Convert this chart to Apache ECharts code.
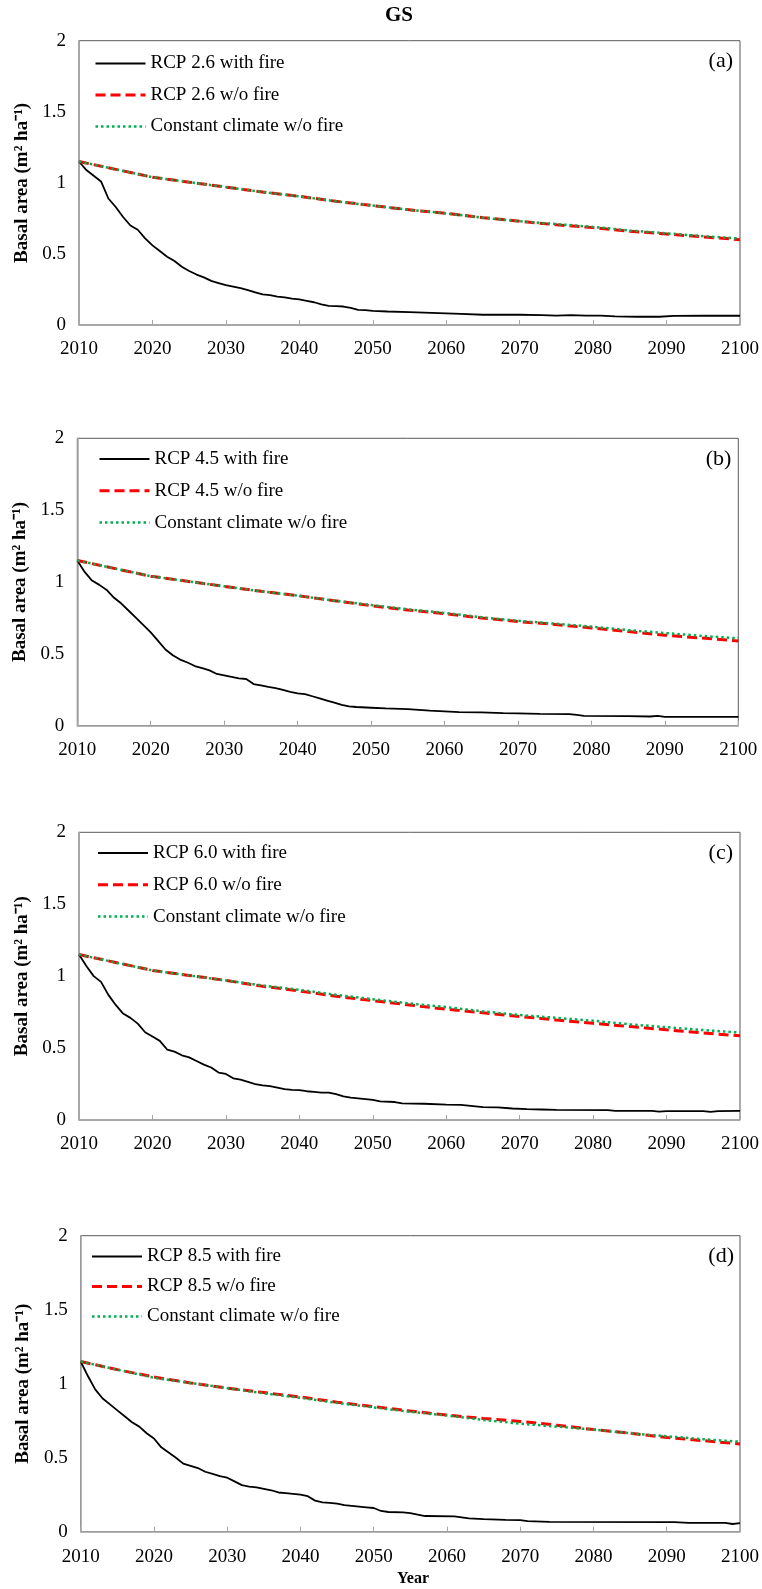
<!DOCTYPE html>
<html>
<head>
<meta charset="utf-8">
<script src="https://cdn.jsdelivr.net/npm/echarts@6/dist/echarts.min.js"></script>
<style>
html,body{margin:0;padding:0;background:#fff;}
#chart{width:762px;height:1589px;}
</style>
</head>
<body>
<div id="chart"></div>
<script>
// ---------- DATA ----------
const chartTitle = 'GS';
const xTicks = [2010, 2020, 2030, 2040, 2050, 2060, 2070, 2080, 2090, 2100];
const yTicks = [0, 0.5, 1, 1.5, 2];
const panelLabels = ['(a)', '(b)', '(c)', '(d)'];
const scenarios = ['RCP 2.6', 'RCP 4.5', 'RCP 6.0', 'RCP 8.5'];
const constantName = 'Constant climate w/o fire';
const yTitle = 'Basal area (m\u00B2 ha\u207B\u00B9)';
const xTitle = 'Year';

// five-year steps for the no-fire runs
const years5 = [2010,2015,2020,2025,2030,2035,2040,2045,2050,2055,2060,2065,2070,2075,2080,2085,2090,2095,2100];
const constantNoFire = [1.15,1.095,1.04,1.005,0.97,0.935,0.905,0.87,0.84,0.81,0.785,0.755,0.73,0.71,0.69,0.665,0.645,0.625,0.608];
const rcp26NoFire   = [1.15,1.095,1.04,1.005,0.97,0.935,0.905,0.87,0.84,0.81,0.785,0.755,0.73,0.705,0.685,0.66,0.64,0.62,0.60];
const rcp45NoFire   = [1.15,1.095,1.04,1.005,0.97,0.935,0.905,0.87,0.835,0.805,0.78,0.75,0.725,0.705,0.68,0.655,0.63,0.61,0.59];
const rcp60NoFire   = [1.15,1.095,1.04,1.005,0.97,0.93,0.897,0.86,0.83,0.80,0.77,0.745,0.72,0.695,0.672,0.65,0.627,0.605,0.585];
const rcp85NoFire   = [1.15,1.095,1.045,1.005,0.97,0.94,0.91,0.875,0.845,0.815,0.788,0.765,0.745,0.72,0.69,0.665,0.637,0.615,0.593];

// with-fire runs: [year, basal area]
const rcp26Fire = [[2010,1.15],[2011,1.09],[2012,1.05],[2013,1.01],[2014,0.89],[2015,0.83],[2016,0.76],[2017,0.70],[2018,0.67],[2019,0.61],[2020,0.56],[2021,0.52],[2022,0.48],[2023,0.45],[2024,0.41],[2025,0.38],[2026,0.355],[2027,0.335],[2028,0.31],[2029,0.295],[2030,0.28],[2031,0.27],[2032,0.26],[2033,0.245],[2034,0.23],[2035,0.215],[2036,0.21],[2037,0.20],[2038,0.195],[2039,0.185],[2040,0.18],[2041,0.17],[2042,0.16],[2043,0.145],[2044,0.135],[2045,0.133],[2046,0.13],[2047,0.12],[2048,0.107],[2049,0.105],[2050,0.10],[2052,0.095],[2055,0.09],[2058,0.085],[2060,0.082],[2062,0.078],[2065,0.072],[2070,0.072],[2073,0.07],[2075,0.066],[2077,0.07],[2079,0.066],[2081,0.066],[2083,0.06],[2086,0.058],[2089,0.058],[2091,0.064],[2095,0.065],[2100,0.065]];
const rcp45Fire = [[2010,1.15],[2011,1.07],[2012,1.01],[2013,0.98],[2014,0.945],[2015,0.89],[2016,0.85],[2017,0.80],[2018,0.75],[2019,0.70],[2020,0.65],[2021,0.59],[2022,0.53],[2023,0.49],[2024,0.46],[2025,0.44],[2026,0.415],[2027,0.40],[2028,0.385],[2029,0.36],[2030,0.35],[2031,0.34],[2032,0.33],[2033,0.325],[2034,0.29],[2035,0.28],[2036,0.27],[2037,0.262],[2038,0.25],[2039,0.235],[2040,0.225],[2041,0.22],[2042,0.205],[2043,0.19],[2044,0.175],[2045,0.16],[2046,0.145],[2047,0.135],[2048,0.13],[2050,0.125],[2052,0.12],[2055,0.115],[2058,0.105],[2060,0.10],[2062,0.095],[2065,0.093],[2068,0.088],[2070,0.086],[2073,0.082],[2077,0.081],[2078,0.075],[2079,0.068],[2085,0.067],[2088,0.064],[2089,0.068],[2090,0.062],[2100,0.062]];
const rcp60Fire = [[2010,1.15],[2011,1.07],[2012,1.00],[2013,0.96],[2014,0.87],[2015,0.80],[2016,0.74],[2017,0.71],[2018,0.67],[2019,0.61],[2020,0.58],[2021,0.55],[2022,0.49],[2023,0.475],[2024,0.45],[2025,0.435],[2026,0.41],[2027,0.385],[2028,0.365],[2029,0.33],[2030,0.32],[2031,0.29],[2032,0.28],[2033,0.265],[2034,0.25],[2035,0.24],[2036,0.235],[2037,0.225],[2038,0.215],[2039,0.21],[2040,0.208],[2041,0.20],[2042,0.195],[2043,0.19],[2044,0.19],[2045,0.18],[2046,0.165],[2047,0.155],[2048,0.15],[2049,0.145],[2050,0.14],[2051,0.13],[2053,0.125],[2054,0.115],[2057,0.113],[2060,0.107],[2062,0.105],[2063,0.10],[2065,0.09],[2067,0.088],[2069,0.08],[2071,0.075],[2073,0.073],[2075,0.07],[2082,0.068],[2083,0.064],[2088,0.063],[2089,0.058],[2090,0.062],[2095,0.062],[2096,0.056],[2097,0.062],[2100,0.063]];
const rcp85Fire = [[2010,1.15],[2011,1.05],[2012,0.96],[2013,0.90],[2014,0.86],[2015,0.82],[2016,0.78],[2017,0.74],[2018,0.71],[2019,0.665],[2020,0.63],[2021,0.57],[2022,0.535],[2023,0.50],[2024,0.46],[2025,0.445],[2026,0.43],[2027,0.405],[2028,0.39],[2029,0.375],[2030,0.365],[2031,0.34],[2032,0.315],[2033,0.305],[2034,0.30],[2035,0.29],[2036,0.28],[2037,0.265],[2038,0.26],[2039,0.255],[2040,0.25],[2041,0.24],[2042,0.21],[2043,0.198],[2044,0.195],[2045,0.19],[2046,0.18],[2047,0.175],[2048,0.17],[2049,0.165],[2050,0.16],[2051,0.14],[2052,0.133],[2054,0.13],[2055,0.125],[2056,0.115],[2057,0.106],[2061,0.103],[2063,0.09],[2065,0.085],[2068,0.08],[2070,0.078],[2071,0.072],[2074,0.066],[2091,0.065],[2093,0.06],[2098,0.06],[2099,0.052],[2100,0.058]];

const fireRuns = [rcp26Fire, rcp45Fire, rcp60Fire, rcp85Fire];
const noFireRuns = [rcp26NoFire, rcp45NoFire, rcp60NoFire, rcp85NoFire];

// ---------- LAYOUT ----------
const FONT = '"Liberation Serif", "Times New Roman", serif';
const W = 762;
const panels = [
  {left: 79,   right: 740,   top: 40.7,   bottom: 325,    legLeft: 94,  legTop: 54,     legGap: 12.5, lblMargin: 15},
  {left: 77.3, right: 738.3, top: 438.3,  bottom: 725.7,  legLeft: 98,  legTop: 449.5,  legGap: 12.8, lblMargin: 15},
  {left: 79,   right: 740,   top: 832.3,  bottom: 1120,   legLeft: 96.5,legTop: 843.5,  legGap: 12.8, lblMargin: 15},
  {left: 80.7, right: 741,   top: 1235.7, bottom: 1531.7, legLeft: 90.5,legTop: 1247,   legGap: 11,   lblMargin: 16}
];

const grid = [], xAxis = [], yAxis = [], series = [], legend = [], graphic = [];

panels.forEach((p, i) => {
  grid.push({
    left: p.left, width: p.right - p.left, top: p.top, height: p.bottom - p.top,
    show: true, borderColor: '#595959', borderWidth: 1, backgroundColor: 'transparent'
  });
  xAxis.push({
    gridIndex: i, type: 'value', min: xTicks[0], max: xTicks[xTicks.length - 1], interval: 10,
    axisLine: {show: true, onZero: false, lineStyle: {color: '#a6a6a6', width: 1.5}},
    axisTick: {show: true, inside: true, length: 5, lineStyle: {color: '#a6a6a6', width: 1}},
    axisLabel: {fontFamily: FONT, fontSize: 19, color: '#000', margin: p.lblMargin,
                formatter: v => String(v)},
    splitLine: {show: false}
  });
  yAxis.push({
    gridIndex: i, type: 'value', min: yTicks[0], max: yTicks[yTicks.length - 1], interval: 0.5,
    axisLine: {show: true, onZero: false, lineStyle: {color: '#a6a6a6', width: 1.5}},
    axisTick: {show: false},
    axisLabel: {fontFamily: FONT, fontSize: 19, color: '#000', margin: 13,
                formatter: v => String(v)},
    splitLine: {show: false},
    name: yTitle, nameLocation: 'middle', nameGap: 36,
    nameTextStyle: {fontFamily: FONT, fontSize: 19, fontWeight: 'bold', color: '#000'}
  });
  const fireName = scenarios[i] + ' with fire';
  const noFireName = scenarios[i] + ' w/o fire';
  series.push({
    name: fireName, type: 'line', xAxisIndex: i, yAxisIndex: i,
    data: fireRuns[i], symbol: 'none', showSymbol: false, smooth: false,
    lineStyle: {color: '#000', width: 1.8, type: 'solid'}, itemStyle: {color: '#000'},
    z: 3, silent: true, animation: false
  });
  series.push({
    name: noFireName, type: 'line', xAxisIndex: i, yAxisIndex: i,
    data: years5.map((y, k) => [y, noFireRuns[i][k]]), symbol: 'none', showSymbol: false,
    lineStyle: {color: '#ff0000', width: 3, type: [10, 5]}, itemStyle: {color: '#ff0000'},
    z: 4, silent: true, animation: false
  });
  series.push({
    name: constantName, type: 'line', xAxisIndex: i, yAxisIndex: i,
    data: years5.map((y, k) => [y, constantNoFire[k]]), symbol: 'none', showSymbol: false,
    lineStyle: {color: '#00b050', width: 2.5, type: [2.5, 3]}, itemStyle: {color: '#00b050'},
    z: 5, silent: true, animation: false
  });
  legend.push({
    orient: 'vertical', left: p.legLeft, top: p.legTop,
    itemWidth: 50, itemHeight: 20, itemGap: p.legGap, padding: 0,
    selectedMode: false,
    lineStyle: {width: 'inherit', type: 'inherit'},
    itemStyle: {color: 'rgba(0,0,0,0)', borderColor: 'rgba(0,0,0,0)', borderWidth: 0, opacity: 0},
    textStyle: {fontFamily: FONT, fontSize: 19, color: '#000'},
    data: [fireName, noFireName, constantName]
  });
  graphic.push({
    type: 'text', right: W - (p.right - 7), top: p.top + 10,
    style: {text: panelLabels[i], font: '22px ' + FONT, fill: '#000'}
  });
});

graphic.push({
  type: 'text', left: 385, top: 5,
  style: {text: chartTitle, font: 'bold 21px ' + FONT, fill: '#000'}
});
graphic.push({
  type: 'text', left: 397, top: 1571,
  style: {text: xTitle, font: 'bold 16px ' + FONT, fill: '#000'}
});

const chart = echarts.init(document.getElementById('chart'), null, {renderer: 'canvas'});
chart.setOption({
  backgroundColor: '#fff',
  animation: false,
  grid, xAxis, yAxis, series, legend, graphic
});
</script>
</body>
</html>
